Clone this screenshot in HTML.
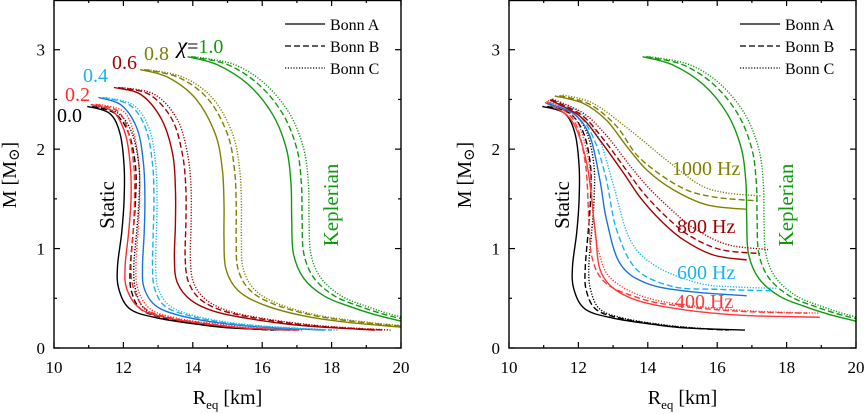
<!DOCTYPE html>
<html><head><meta charset="utf-8"><style>
html,body{margin:0;padding:0;background:#fff;}
svg{display:block;}
svg text{font-family:"Liberation Serif","DejaVu Serif",serif;}
</style></head><body>
<svg id="fig" width="865" height="414" viewBox="0 0 865 414" font-family="Liberation Serif, DejaVu Serif, serif"></svg>
<script>
// ---------- DATA ----------
const chiLabels = ["0.0","0.2","0.4","0.6","0.8","1.0"];
const chiM = [
 [2.43,2.36,2.16,1.83,1.49,1.16,0.82,0.59,0.39,0.30,0.235,0.20,0.18],
 [2.45,2.38,2.16,1.83,1.49,1.16,0.82,0.59,0.39,0.30,0.24,0.20,0.18],
 [2.52,2.44,2.20,1.85,1.50,1.16,0.82,0.60,0.42,0.32,0.25,0.21,0.18],
 [2.62,2.55,2.30,1.95,1.60,1.25,0.90,0.66,0.48,0.36,0.28,0.22,0.18],
 [2.80,2.72,2.50,2.15,1.80,1.45,1.10,0.80,0.58,0.44,0.33,0.26,0.21],
 [2.93,2.85,2.65,2.35,2.00,1.65,1.30,0.95,0.70,0.52,0.42,0.34,0.27]
];
const chiRA = [
 [10.96,11.6,11.9,12.02,12.02,11.95,11.83,11.87,12.2,13.0,14.2,15.16,16.8],
 [11.06,11.7,12.05,12.2,12.22,12.15,12.05,12.1,12.5,13.3,14.4,15.5,17.0],
 [11.28,11.95,12.4,12.58,12.62,12.6,12.55,12.6,12.95,13.7,14.8,16.0,17.8],
 [11.73,12.5,13.1,13.42,13.5,13.5,13.47,13.55,13.95,14.7,15.9,17.3,19.26],
 [12.48,13.3,14.1,14.65,14.85,14.9,14.9,14.95,15.3,16.0,17.1,18.4,20.0],
 [13.85,14.7,15.6,16.3,16.7,16.83,16.85,16.9,17.2,17.8,18.5,19.2,20.0]
];
const chiRB = [
 [11.1,11.75,12.15,12.35,12.35,12.28,12.2,12.22,12.5,13.2,14.3,15.3,16.3],
 [11.2,11.85,12.15,12.3,12.32,12.28,12.22,12.3,12.65,13.4,14.55,15.6,17.1],
 [11.4,12.2,12.65,12.84,12.88,12.86,12.84,12.9,13.2,13.95,15.05,16.3,18.0],
 [11.85,12.75,13.4,13.7,13.8,13.8,13.78,13.88,14.25,15.0,16.2,17.6,19.5],
 [12.6,13.6,14.45,15.0,15.2,15.25,15.25,15.3,15.65,16.35,17.45,18.8,20.3],
 [13.95,15.0,15.9,16.6,17.0,17.13,17.15,17.2,17.5,18.1,18.8,19.5,20.3]
];
const chiRC = [
 [11.2,11.85,12.25,12.45,12.45,12.38,12.3,12.35,12.62,13.3,14.4,15.4,16.4],
 [11.3,12.0,12.3,12.45,12.47,12.42,12.36,12.42,12.78,13.55,14.7,15.8,17.2],
 [11.5,12.3,12.75,12.93,12.97,12.95,12.93,13.0,13.35,14.1,15.2,16.5,18.2],
 [11.95,12.9,13.55,13.85,13.95,13.95,13.93,14.02,14.4,15.15,16.35,17.8,19.7],
 [12.7,13.75,14.6,15.15,15.35,15.4,15.4,15.45,15.8,16.5,17.6,19.0,20.5],
 [14.05,15.2,16.1,16.8,17.2,17.33,17.35,17.4,17.7,18.3,19.0,19.7,20.5]
];
const chiColorsA = ["#000000","#ff2a2a","#1a72e0","#a30000","#808000","#109a10"];
const chiColorsBC = ["#000000","#ff2a2a","#18b4f2","#a30000","#808000","#109a10"];

const freqLabels = ["400 Hz","600 Hz","800 Hz","1000 Hz"];
const freqRA = [
 [11.04,11.8,12.24,12.48,12.67,13.39,14.74,16.66,18.96],
 [11.09,11.85,12.33,12.62,12.81,13.2,13.97,15.22,16.85],
 [11.18,12.05,12.62,13.3,13.77,14.35,15.02,15.89,16.85],
 [11.32,12.14,12.81,13.39,13.97,14.74,15.7,16.85]
];
const freqMA = [
 [2.47,2.29,1.86,1.19,0.75,0.52,0.40,0.33,0.31],
 [2.46,2.36,2.13,1.69,1.29,0.85,0.65,0.567,0.525],
 [2.495,2.33,2.09,1.76,1.52,1.29,1.09,0.935,0.886],
 [2.535,2.46,2.29,2.03,1.79,1.59,1.44,1.395]
];
const freqRB = [
 [11.08,11.85,12.2,12.3,12.4,12.8,13.77,14.74,16.6,18.6],
 [11.15,11.95,12.45,12.8,13.1,13.68,14.74,16.0,17.62],
 [11.22,12.1,12.72,13.4,13.9,14.5,15.2,16.1,17.23],
 [11.45,12.33,13.1,13.77,14.93,15.89,17.14]
];
const freqMB = [
 [2.48,2.30,1.86,1.30,0.90,0.65,0.50,0.43,0.37,0.35],
 [2.47,2.36,2.10,1.70,1.19,0.79,0.617,0.59,0.575],
 [2.50,2.34,2.10,1.78,1.55,1.33,1.13,0.99,0.95],
 [2.54,2.45,2.23,1.91,1.62,1.52,1.48]
];
const freqRC = [
 [11.12,11.9,12.3,12.43,12.6,13.0,14.25,16.66,18.96],
 [11.2,12.05,12.6,13.0,13.49,14.25,15.5,16.5,17.71],
 [11.25,12.15,12.8,13.45,14.0,14.65,15.35,16.3,17.47],
 [11.55,12.43,13.49,14.54,15.5,16.27,17.28]
];
const freqMC = [
 [2.49,2.31,1.88,1.30,0.95,0.68,0.48,0.38,0.35],
 [2.48,2.37,2.10,1.65,1.09,0.82,0.65,0.615,0.60],
 [2.505,2.36,2.14,1.85,1.62,1.40,1.20,1.04,0.99],
 [2.545,2.46,2.19,1.89,1.64,1.56,1.53]
];
const freqColorsA = ["#ff3a3a","#1a72e0","#a30000","#808000"];
const freqColorsBC = ["#ff3a3a","#18b4f2","#a30000","#808000"];

const xTicks = [10,12,14,16,18,20];
const yTicks = [0,1,2,3];
const legendLabels = ["Bonn A","Bonn B","Bonn C"];

// ---------- DRAW ----------
const NS="http://www.w3.org/2000/svg";
const svg=document.getElementById('fig');
const PW=347, PH=348, XMIN=10, XMAX=20, YMIN=0, YMAX=3.5;
const FONT='"Liberation Serif","DejaVu Serif",serif';
const dashes=["", "6,3", "1.2,1.6"];
function mk(tag,attrs,parent){const e=document.createElementNS(NS,tag);for(const k in attrs)e.setAttribute(k,attrs[k]);if(tag==='text')e.style.fontFamily=FONT;(parent||svg).appendChild(e);return e;}
function makeAxes(x0){
  const sx=v=>x0+(v-XMIN)/(XMAX-XMIN)*PW;
  const sy=v=>PH-(v-YMIN)/(YMAX-YMIN)*PH;
  return {sx,sy};
}
function pathD(R,M,ax){
  const p=R.map((r,i)=>[ax.sx(r),ax.sy(M[i])]);
  let d="M"+p[0][0].toFixed(1)+","+p[0][1].toFixed(1);
  for(let i=0;i<p.length-1;i++){
    const p0=p[Math.max(i-1,0)],p1=p[i],p2=p[i+1],p3=p[Math.min(i+2,p.length-1)];
    const c1=[p1[0]+(p2[0]-p0[0])/6,p1[1]+(p2[1]-p0[1])/6];
    const c2=[p2[0]-(p3[0]-p1[0])/6,p2[1]-(p3[1]-p1[1])/6];
    d+=" C"+c1[0].toFixed(1)+","+c1[1].toFixed(1)+" "+c2[0].toFixed(1)+","+c2[1].toFixed(1)+" "+p2[0].toFixed(1)+","+p2[1].toFixed(1);
  }
  return d;
}
function drawPanel(x0,id){
  const ax=makeAxes(x0);
  const g=mk('g',{});
  
  
  const cp=mk('clipPath',{id:'clip-'+id},g);
  mk('rect',{x:x0,y:0,width:PW,height:PH},cp);
  const curves=mk('g',{'clip-path':'url(#clip-'+id+')'},g);
  
  
  const fr=mk('rect',{x:x0,y:0.5,width:PW,height:PH-0.5,fill:'none',stroke:'#000','stroke-width':1.4},g);
  
  
  for(let v=XMIN;v<=XMAX;v+=1){
    const L=(v%2===0)?6:3, x=ax.sx(v);
    mk('line',{x1:x,x2:x,y1:PH,y2:PH-L,stroke:'#000','stroke-width':1.2},g);
    mk('line',{x1:x,x2:x,y1:0,y2:L,stroke:'#000','stroke-width':1.2},g);
  }
  for(let v=YMIN;v<=YMAX;v+=0.5){
    const L=(Math.abs(v%1)<1e-9)?6:3, y=ax.sy(v);
    mk('line',{x1:x0,x2:x0+L,y1:y,y2:y,stroke:'#000','stroke-width':1.2},g);
    mk('line',{x1:x0+PW,x2:x0+PW-L,y1:y,y2:y,stroke:'#000','stroke-width':1.2},g);
  }
  xTicks.forEach(v=>{
    const t=mk('text',{x:ax.sx(v),y:373,'text-anchor':'middle','font-size':17},g);t.textContent=v;
    
    
  });
  yTicks.forEach(v=>{
    const t=mk('text',{x:x0-9,y:ax.sy(v)+6,'text-anchor':'end','font-size':17},g);t.textContent=v;
    
    
  });
  const xl=mk('text',{x:x0+PW/2,y:404,'text-anchor':'middle','font-size':20},g);
  xl.innerHTML='R<tspan font-size="13" dy="5">eq</tspan><tspan dy="-5"> [km]</tspan>';
  
  
  const yl=mk('text',{x:0,y:0,'text-anchor':'middle','font-size':20,transform:'translate('+(x0-38)+',175) rotate(-90)'},g);
  yl.innerHTML='M [M<tspan font-size="15" dy="3">\u2299</tspan><tspan dy="-3">]</tspan>';
  
  
  legendLabels.forEach((lab,i)=>{
    const y=25+i*22;
    const ln=mk('line',{x1:x0+231,x2:x0+271,y1:y-1,y2:y-1,stroke:'#000','stroke-width':1.3,'stroke-dasharray':dashes[i]},g);
    
    
    const t=mk('text',{x:x0+276,y:y+5,'font-size':16},g);t.textContent=lab;
    
    
  });
  return {ax,curves,g};
}
function curve(grp,R,M,ax,color,dash,name){
  const p=mk('path',{d:pathD(R,M,ax),fill:'none',stroke:color,'stroke-width':1.4,'stroke-dasharray':dash},grp);
  
  
}
function label(txt,x,y,color,size,rot,name){
  const t=mk('text',{x:x,y:y,fill:color,'font-size':size,'text-anchor':rot?'middle':'start'});
  if(rot)t.setAttribute('transform','rotate(-90 '+x+' '+y+')');
  t.textContent=txt;
  
  
  return t;
}

const L=drawPanel(54,'left');
for(let i=0;i<chiLabels.length;i++){
  curve(L.curves,chiRA[i],chiM[i],L.ax,chiColorsA[i],dashes[0],'chi-'+chiLabels[i]+'-bonn-a');
  curve(L.curves,chiRB[i],chiM[i],L.ax,chiColorsBC[i],dashes[1],'chi-'+chiLabels[i]+'-bonn-b');
  curve(L.curves,chiRC[i],chiM[i],L.ax,chiColorsBC[i],dashes[2],'chi-'+chiLabels[i]+'-bonn-c');
}
const chiLabelPos=[[57,122],[65,101],[83,82],[112,69],[144,60]];
for(let i=0;i<5;i++) label(chiLabels[i],chiLabelPos[i][0],chiLabelPos[i][1],chiColorsBC[i],20,false,'chi-label-'+chiLabels[i]);
const cl=label('',177,53,'#000',20,false,'chi-label-1.0');
cl.innerHTML='<tspan font-style="italic" font-size="23">\u03C7</tspan>=<tspan fill="#109a10">1.0</tspan>';
label('Static',114,205,'#000',21,true,'static-label-left');
label('Keplerian',338,205,'#109a10',21,true,'keplerian-label-left');

const Rp=drawPanel(509,'right');
curve(Rp.curves,chiRA[0],chiM[0],Rp.ax,'#000',dashes[0],'static-bonn-a');
curve(Rp.curves,chiRB[0],chiM[0],Rp.ax,'#000',dashes[1],'static-bonn-b');
curve(Rp.curves,chiRC[0],chiM[0],Rp.ax,'#000',dashes[2],'static-bonn-c');
curve(Rp.curves,chiRA[5],chiM[5],Rp.ax,'#109a10',dashes[0],'keplerian-bonn-a');
curve(Rp.curves,chiRB[5],chiM[5],Rp.ax,'#109a10',dashes[1],'keplerian-bonn-b');
curve(Rp.curves,chiRC[5],chiM[5],Rp.ax,'#109a10',dashes[2],'keplerian-bonn-c');
for(let i=0;i<freqLabels.length;i++){
  curve(Rp.curves,freqRA[i],freqMA[i],Rp.ax,freqColorsA[i],dashes[0],'freq-'+freqLabels[i].replace(' ','')+'-bonn-a');
  curve(Rp.curves,freqRB[i],freqMB[i],Rp.ax,freqColorsBC[i],dashes[1],'freq-'+freqLabels[i].replace(' ','')+'-bonn-b');
  curve(Rp.curves,freqRC[i],freqMC[i],Rp.ax,freqColorsBC[i],dashes[2],'freq-'+freqLabels[i].replace(' ','')+'-bonn-c');
}
const freqLabelPos=[[675,308],[677,279],[677,233],[672,175]];
for(let i=0;i<4;i++) label(freqLabels[i],freqLabelPos[i][0],freqLabelPos[i][1],freqColorsBC[i],20,false,'freq-label-'+freqLabels[i].replace(' ',''));
label('Static',569,205,'#000',21,true,'static-label-right');
label('Keplerian',793,205,'#109a10',21,true,'keplerian-label-right');
</script>
</body></html>
